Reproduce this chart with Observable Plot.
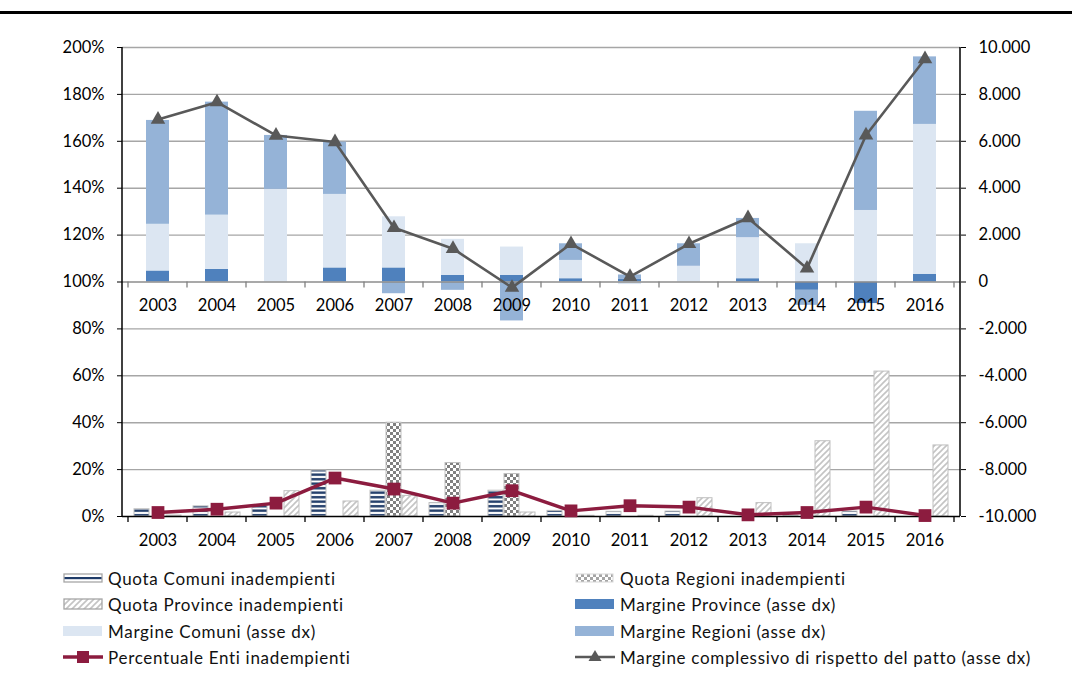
<!DOCTYPE html>
<html><head><meta charset="utf-8">
<script src="https://cdn.jsdelivr.net/npm/d3@7"></script>
<script src="https://cdn.jsdelivr.net/npm/@observablehq/plot@0.6"></script>
<style>
body{margin:0;background:#fff;font-family:Lato,sans-serif;}
#wrap{position:relative;width:1072px;height:677px;overflow:hidden;}
#rule{position:absolute;left:0;top:11px;width:1072px;height:3px;background:#000;}
#chart{position:absolute;left:0;top:0;}
.leg{position:absolute;display:flex;align-items:center;font-size:17px;color:#111;white-space:nowrap;height:22px;letter-spacing:0.7px;}
.leg svg{margin-right:5px;flex:none;}
</style></head><body>
<svg width="0" height="0" style="position:absolute">
  <defs>
    <pattern id="pStripe" width="4.5" height="4.5" patternUnits="userSpaceOnUse">
      <rect width="4.5" height="4.5" fill="#fff"/><rect width="4.5" height="2.4" y="1" fill="#1F3B68"/>
    </pattern>
    <pattern id="pCheck" width="6" height="6" patternUnits="userSpaceOnUse">
      <rect width="6" height="6" fill="#fff"/><rect width="3" height="3" fill="#808080"/><rect x="3" y="3" width="3" height="3" fill="#808080"/>
    </pattern>
    <pattern id="pDiag" width="6" height="6" patternUnits="userSpaceOnUse">
      <rect width="6" height="6" fill="#fff"/>
      <path d="M-1,1 L1,-1 M0,6 L6,0 M5,7 L7,5" stroke="#c4c4c4" stroke-width="1.6"/>
    </pattern>
  </defs>
</svg>
<div id="wrap"><div id="chart"></div><div id="rule"></div><div id="legend"></div></div>
<script>
const years = [2003,2004,2005,2006,2007,2008,2009,2010,2011,2012,2013,2014,2015,2016];
// right axis (asse dx) series
const margineProvince = [470, 540, 0, 600, 600, 285, 285, 140, 130, 0, 140, -355, -920, 330];
const margineComuni   = [1990, 2310, 3950, 3135, 2180, 1535, 1205, 780, -110, 670, 1750, 1630, 3050, 6390];
const margineRegioni  = [4430, 4820, 2300, 2230, -500, -355, -1660, 710, 170, 960, 820, -640, 4230, 2880];
const margineTotale   = [6930, 7670, 6250, 5970, 2310, 1420, -240, 1630, 225, 1630, 2730, 580, 6260, 9510];
// left axis series (%)
const quotaComuni   = [3.1, 4.3, 4.5, 19.6, 11.0, 5.7, 11.0, 2.4, 2.0, 2.1, 0, 0.4, 2.1, 0];
const quotaRegioni  = [0, 0, 0, 0, 40.0, 22.8, 18.1, 0, 0, 0, 0, 0, 0, 0];
const quotaProvince = [0.4, 1.7, 10.8, 6.4, 8.8, 0, 1.7, 0.3, 0.3, 7.8, 5.7, 32.1, 61.8, 30.3];
const percEnti      = [1.7, 3.1, 5.7, 16.4, 11.7, 5.7, 11.0, 2.4, 4.6, 4.0, 0.7, 1.7, 4.0, 0.4];
const leftTicks  = [0,20,40,60,80,100,120,140,160,180,200];
const rightTicks = [-10000,-8000,-6000,-4000,-2000,0,2000,4000,6000,8000,10000];
const stackNames = ["Margine Province (asse dx)","Margine Comuni (asse dx)","Margine Regioni (asse dx)"];
const stackColors = ["#4F81BD","#DCE6F2","#95B3D7"];

const fmtIt = d3.formatLocale({decimal:",",thousands:".",grouping:[3],currency:["€",""],minus:"-"}).format(",d");
const toPct = v => 100 + v/100;

const stackSeries = [[stackNames[0], margineProvince],[stackNames[1], margineComuni],[stackNames[2], margineRegioni]];
const stackRows = [];
years.forEach((yr,i)=>{
  let pos=0, neg=0;
  for (const [key, arr] of stackSeries) {
    const v = arr[i];
    if (!v) continue;
    if (v>0){ stackRows.push({year:yr,key,lo:pos,hi:pos+v}); pos+=v; }
    else { stackRows.push({year:yr,key,lo:neg+v,hi:neg}); neg+=v; }
  }
});
const qRows = (arr) => years.map((yr,i)=>({year:yr, v:arr[i]})).filter(d=>d.v>0);

const frameMark = (index, scales, values, dims) => {
  const x = scales.x, y = scales.y;
  const bw = typeof x.bandwidth === "function" ? x.bandwidth() : x.bandwidth;
  const g = d3.create("svg:g");
  const L = dims.marginLeft, R = dims.width - dims.marginRight;
  for (const xx of [L,R]) g.append("line").attr("x1",xx).attr("x2",xx).attr("y1",y(200)).attr("y2",y(0)).attr("stroke","#000").attr("stroke-width",1.5);
  const bounds = years.map(yr=>x(yr)).concat([x(years[years.length-1])+bw]);
  for (const lv of [100,0]) for (const bx of bounds) {
    g.append("line").attr("x1",bx).attr("x2",bx).attr("y1",y(lv)).attr("y2",y(lv)+6).attr("stroke", lv===0?"#000":"#808080").attr("stroke-width",1.3);
  }
  return g.node();
};

const chart = Plot.plot({
  width:1072, height:560, marginTop:47, marginBottom:44, marginLeft:122, marginRight:112,
  style:{fontFamily:"Lato, sans-serif", fontSize:"16.5px", color:"#000", background:"transparent"},
  x:{type:"band", domain:years, padding:0, axis:null},
  y:{domain:[0,200], axis:null},
  color:{domain:stackNames, range:stackColors},
  marks:[
    Plot.ruleY(leftTicks.filter(d=>d>0 && d!==100), {stroke:"#a6a6a6", strokeWidth:1.4}),
    Plot.barY(qRows(quotaComuni), {x:"year", y1:0, y2:"v", fill:"url(#pStripe)", stroke:"#bfbfbf", strokeWidth:1, insetLeft:6, insetRight:38}),
    Plot.barY(qRows(quotaRegioni), {x:"year", y1:0, y2:"v", fill:"url(#pCheck)", stroke:"#bfbfbf", strokeWidth:1, insetLeft:22, insetRight:22}),
    Plot.barY(qRows(quotaProvince), {x:"year", y1:0, y2:"v", fill:"url(#pDiag)", stroke:"#bfbfbf", strokeWidth:1, insetLeft:38, insetRight:6}),
    Plot.barY(stackRows, {x:"year", y1:d=>toPct(d.lo), y2:d=>toPct(d.hi), fill:"key", insetLeft:18, insetRight:18}),
    Plot.ruleY([100], {stroke:"#8c8c8c", strokeWidth:1.4}),
    Plot.ruleY([0], {stroke:"#000", strokeWidth:1.4}),
    frameMark,
    Plot.axisY({anchor:"left", ticks:leftTicks, tickFormat:d=>d+"%", tickSize:5, tickPadding:13, label:null}),
    Plot.axisY({anchor:"right", ticks:rightTicks.map(toPct), tickFormat:d=>fmtIt(Math.round((d-100)*100)), tickSize:5, tickPadding:13, label:null}),
    Plot.text(years, {x:d=>d, y:100, dy:24, text:d=>String(d), fill:"#000"}),
    Plot.text(years, {x:d=>d, y:0, dy:24, text:d=>String(d), fill:"#000"}),
    Plot.line(years, {x:d=>d, y:(d,i)=>percEnti[i], stroke:"#8C1C3F", strokeWidth:3.5}),
    Plot.dot(years, {x:d=>d, y:(d,i)=>percEnti[i], symbol:"square", r:7.2, fill:"#8C1C3F", stroke:"none"}),
    Plot.line(years, {x:d=>d, y:(d,i)=>toPct(margineTotale[i]), stroke:"#595959", strokeWidth:2.6}),
    Plot.dot(years, {x:d=>d, y:(d,i)=>toPct(margineTotale[i]), symbol:"triangle", r:5.4, fill:"#595959", stroke:"none"})
  ]
});
document.getElementById("chart").appendChild(chart);

// legend
const legendItems = [
  {label:"Quota Comuni inadempienti", x:63, y:578, type:"stripe"},
  {label:"Quota Regioni inadempienti", x:575, y:578, type:"check"},
  {label:"Quota Province inadempienti", x:63, y:604, type:"diag"},
  {label:stackNames[0], x:575, y:604, type:"fill", color:stackColors[0]},
  {label:stackNames[1], x:63, y:631, type:"fill", color:stackColors[1]},
  {label:stackNames[2], x:575, y:631, type:"fill", color:stackColors[2]},
  {label:"Percentuale Enti inadempienti", x:63, y:657, type:"sq"},
  {label:"Margine complessivo di rispetto del patto (asse dx)", x:575, y:657, type:"tri"}
];
const leg = document.getElementById("legend");
for (const it of legendItems) {
  const div = document.createElement("div");
  div.className = "leg";
  div.style.left = it.x + "px";
  div.style.top = (it.y - 11) + "px";
  let sw = "";
  if (it.type==="stripe") sw = `<rect x="1" y="6" width="38" height="8" fill="#fff" stroke="#a6a6a6" stroke-width="1.3"/><rect x="1.5" y="9" width="37" height="2.2" fill="#1F3B68"/>`;
  else if (it.type==="check") sw = `<rect x="1" y="6" width="37" height="8" fill="url(#pCheck)" stroke="#c8c8c8" stroke-width="1" opacity="0.7"/>`;
  else if (it.type==="diag") sw = `<rect x="1" y="5" width="38" height="10" fill="url(#pDiag)" stroke="#a6a6a6" stroke-width="1.3"/>`;
  else if (it.type==="fill") sw = `<rect x="0" y="5" width="39" height="10" fill="${it.color}"/>`;
  else if (it.type==="sq") sw = `<line x1="0" x2="40" y1="10" y2="10" stroke="#8C1C3F" stroke-width="3.5"/><rect x="14" y="4" width="12" height="12" fill="#8C1C3F"/>`;
  else if (it.type==="tri") sw = `<line x1="0" x2="40" y1="10" y2="10" stroke="#595959" stroke-width="2.4"/><path d="M20,3 L26.5,14 L13.5,14 Z" fill="#595959"/>`;
  div.innerHTML = `<svg width="40" height="20">${sw}</svg><span>${it.label}</span>`;
  leg.appendChild(div);
}
</script>
</body></html>
